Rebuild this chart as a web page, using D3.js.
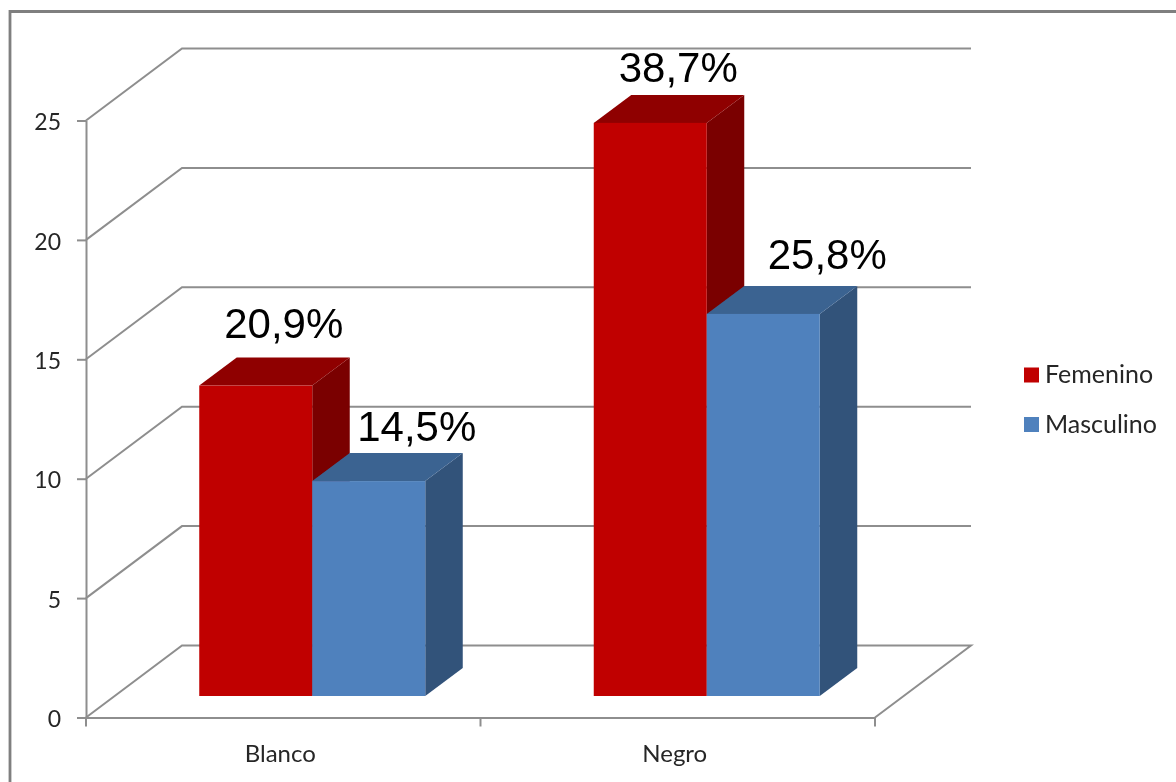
<!DOCTYPE html>
<html><head><meta charset="utf-8">
<style>html,body{margin:0;padding:0;background:#fff;overflow:hidden}svg{display:block}</style>
<script src="https://cdn.jsdelivr.net/npm/d3@7/dist/d3.min.js"></script>
</head><body><div id="chart"></div>
<script>
const categories = ["Blanco", "Negro"];
const seriesNames = ["Femenino", "Masculino"];
const femenino = [13, 24];
const masculino = [9, 16];
const femeninoLabels = ["20,9%", "38,7%"];
const masculinoLabels = ["14,5%", "25,8%"];
const yTicks = [0, 5, 10, 15, 20, 25];

const W = 1176, H = 782;
const svg = d3.select("#chart").append("svg").attr("width", W).attr("height", H);
svg.append("defs").append("filter").attr("id","soft")
  .attr("filterUnits","userSpaceOnUse").attr("x",0).attr("y",0).attr("width",W).attr("height",H)
  .append("feGaussianBlur").attr("stdDeviation",0.6);
const g = svg.append("g").attr("filter","url(#soft)");

const x = d3.scaleBand().domain(categories).range([86, 875]);
const y = d3.scaleLinear().domain([0, 25]).range([717.5, 120.5]);
const depth = {dx: 96, dy: -72};
const barDepth = {dx: 37.5, dy: -28};
const front = {dx: 29, dy: -21.5};
const barW = 113;
const gray = "#8e8e8e";

// frame
g.append("path").attr("d", `M10,${H+5}V11.5H${W+5}`).attr("fill","none").attr("stroke","#7f7f7f").attr("stroke-width",2.8);

// walls and gridlines
yTicks.forEach(t => {
  const p = d3.path();
  p.moveTo(86, y(t));
  p.lineTo(86 + depth.dx, y(t) + depth.dy);
  p.lineTo(875 + depth.dx, y(t) + depth.dy);
  if (t === 0) p.lineTo(875, y(0));
  g.append("path").attr("d", p.toString()).attr("fill","none").attr("stroke",gray).attr("stroke-width",2);
});

// axes
const yAxis = g.append("g").attr("transform","translate(86,0)")
  .call(d3.axisLeft(y).tickValues(yTicks).tickSize(9).tickPadding(16).tickSizeOuter(0));
const xAxis = g.append("g").attr("transform",`translate(0,${y(0)})`)
  .call(d3.axisBottom(x).tickSize(0).tickPadding(27).tickSizeOuter(0));
[x.range()[0], (x.range()[0]+x.range()[1])/2, x.range()[1]].forEach(v =>
  g.append("line").attr("x1",v).attr("x2",v).attr("y1",y(0)).attr("y2",y(0)+9).attr("stroke",gray).attr("stroke-width",2));
[yAxis, xAxis].forEach(a => {
  a.selectAll("path,line").attr("stroke",gray).attr("stroke-width",2);
  a.selectAll("text").attr("fill","#262626").style("font-family","Lato");
});
yAxis.selectAll("text").style("font-size","23px").attr("dy","0.4em");
xAxis.selectAll("text").style("font-size","24px").attr("dx",-3);

// bars
function bar(cat, value, offset, c) {
  const x0 = x(cat) + x.bandwidth()/2 + front.dx + offset;
  const x1 = x0 + barW;
  const top = y(value) + front.dy, base = y(0) + front.dy;
  const b = g.append("g");
  b.append("path").attr("fill",c.side)
   .attr("d",`M${x1},${top}l${barDepth.dx},${barDepth.dy}V${base+barDepth.dy}L${x1},${base}Z`);
  b.append("path").attr("fill",c.top)
   .attr("d",`M${x0},${top}l${barDepth.dx},${barDepth.dy}H${x1+barDepth.dx}L${x1},${top}Z`);
  b.append("rect").attr("x",x0).attr("y",top).attr("width",barW).attr("height",base-top).attr("fill",c.front);
}
const red = {front:"#c00000", top:"#8f0000", side:"#7a0000"};
const blue = {front:"#4f81bd", top:"#3b6391", side:"#32527a"};
categories.forEach((cat,i) => {
  bar(cat, femenino[i], -barW, red);
  bar(cat, masculino[i], 0, blue);
});

// data labels, hand-placed above each bar as in the original
const labels = g.append("g").style("font-family","'Liberation Sans'").style("font-size","42px").attr("fill","#000").attr("text-anchor","middle");
categories.forEach((cat,i) => {
  const c = x(cat) + x.bandwidth()/2 + front.dx;
  labels.append("text").attr("x", c - barW/2 + 28).attr("y", y(femenino[i]) + front.dy - (i ? 41 : 48)).text(femeninoLabels[i]);
  labels.append("text").attr("x", c + barW/2 + (i ? 64 : 48)).attr("y", y(masculino[i]) + front.dy - (i ? 45 : 40)).text(masculinoLabels[i]);
});

// legend
const colors = [red.front, blue.front];
const lg = g.append("g");
seriesNames.forEach((s,i) => {
  const ly = 375 + i*49.5;
  lg.append("rect").attr("x",1024).attr("y",ly-7.5).attr("width",15).attr("height",15).attr("fill",colors[i]);
  lg.append("text").attr("x",1045).attr("y",ly+8).text(s).attr("fill","#262626").style("font-family","Lato").style("font-size","25px");
});
</script></body></html>
